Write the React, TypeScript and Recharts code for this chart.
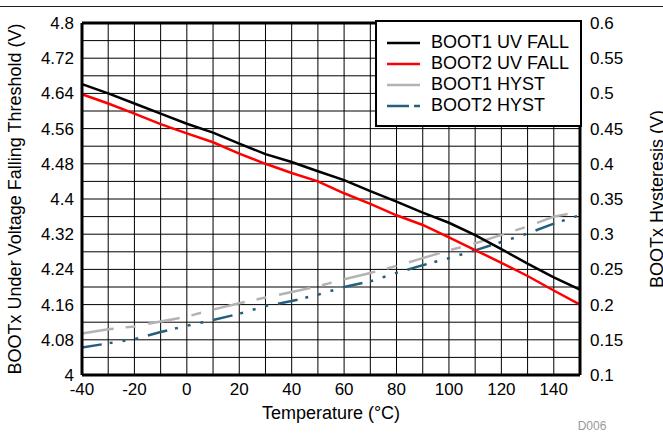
import React from 'react';
import { LineChart, Line, XAxis, YAxis, CartesianGrid, Legend, ReferenceLine } from 'recharts';

const temperatures = [-40, -30, -20, -10, 0, 10, 20, 30, 40, 50, 60, 70, 80, 90, 100, 110, 120, 130, 140, 150];
const boot1UvFall = [4.661, 4.640, 4.617, 4.594, 4.571, 4.551, 4.526, 4.502, 4.484, 4.463, 4.443, 4.418, 4.394, 4.369, 4.346, 4.318, 4.286, 4.253, 4.222, 4.194];
const boot2UvFall = [4.638, 4.617, 4.594, 4.570, 4.549, 4.529, 4.503, 4.480, 4.459, 4.440, 4.413, 4.389, 4.363, 4.341, 4.313, 4.284, 4.255, 4.225, 4.192, 4.160];
const boot1Hyst = [0.159, 0.165, 0.169, 0.176, 0.183, 0.193, 0.202, 0.210, 0.218, 0.226, 0.236, 0.245, 0.255, 0.266, 0.277, 0.287, 0.299, 0.311, 0.325, 0.332];
const boot2Hyst = [0.139, 0.145, 0.151, 0.161, 0.170, 0.178, 0.187, 0.198, 0.205, 0.214, 0.225, 0.233, 0.245, 0.256, 0.266, 0.277, 0.289, 0.301, 0.315, 0.327];

const seriesNames = ['BOOT1 UV FALL', 'BOOT2 UV FALL', 'BOOT1 HYST', 'BOOT2 HYST'];

const xTicks = [-40, -30, -20, -10, 0, 10, 20, 30, 40, 50, 60, 70, 80, 90, 100, 110, 120, 130, 140, 150];
const xTickLabels = ['-40', '-20', '0', '20', '40', '60', '80', '100', '120', '140'];
const leftTicks = [4, 4.04, 4.08, 4.12, 4.16, 4.2, 4.24, 4.28, 4.32, 4.36, 4.4, 4.44, 4.48, 4.52, 4.56, 4.6, 4.64, 4.68, 4.72, 4.76, 4.8];
const leftTickLabels = ['4', '4.08', '4.16', '4.24', '4.32', '4.4', '4.48', '4.56', '4.64', '4.72', '4.8'];
const rightTicks = [0.1, 0.15, 0.2, 0.25, 0.3, 0.35, 0.4, 0.45, 0.5, 0.55, 0.6];
const rightTickLabels = ['0.1', '0.15', '0.2', '0.25', '0.3', '0.35', '0.4', '0.45', '0.5', '0.55', '0.6'];

const FONT = '"Liberation Sans", Arial, Helvetica, sans-serif';
const COLORS = ['#000000', '#ff0000', '#b3b3b3', '#255f7e'];
const DASHES = [undefined, undefined, '32 12 10 13', '20 8 3 10 3 10 3 10'];
const LEGEND_DASHES = [undefined, undefined, undefined, '22 5 7 100'];

const chartData = temperatures.map((t, i) => ({
  t,
  b1: boot1UvFall[i],
  b2: boot2UvFall[i],
  h1: boot1Hyst[i],
  h2: boot2Hyst[i],
}));

const pick = (labels: string[], v: number) => {
  const found = labels.find((l) => Math.abs(Number(l) - v) < 1e-6);
  return found === undefined ? '' : found;
};

const renderLegend = () => (
  <div
    style={{
      boxSizing: 'border-box',
      width: 207,
      height: 107,
      border: '2.5px solid #000',
      background: '#fff',
      paddingTop: 10,
      fontFamily: FONT,
      fontSize: 18,
      color: '#000',
    }}
  >
    {seriesNames.map((name, i) => (
      <div key={name} style={{ display: 'flex', alignItems: 'center', height: 21 }}>
        <svg width={33} height={6} style={{ marginLeft: 9.5, marginRight: 11.5, display: 'block' }}>
          <line x1={0} y1={3} x2={33} y2={3} stroke={COLORS[i]} strokeWidth={2.5} strokeDasharray={LEGEND_DASHES[i]} />
        </svg>
        <span style={{ whiteSpace: 'nowrap', lineHeight: '21px' }}>{name}</span>
      </div>
    ))}
  </div>
);

const renderLeftTitle = (props: any) => {
  const vb = props.viewBox;
  const cx = vb.x + 21;
  const cy = vb.y + vb.height / 2;
  return (
    <text x={cx} y={cy} transform={`rotate(-90 ${cx} ${cy})`} textAnchor="middle" fontFamily={FONT} fontSize={18} fill="#000">
      BOOTx Under Voltage Falling Threshold (V)
    </text>
  );
};

const renderRightTitle = (props: any) => {
  const vb = props.viewBox;
  const cx = vb.x + 83;
  const cy = vb.y + vb.height / 2;
  return (
    <text x={cx} y={cy} transform={`rotate(-90 ${cx} ${cy})`} textAnchor="middle" fontFamily={FONT} fontSize={18} fill="#000">
      BOOTx Hysteresis (V)
    </text>
  );
};

const renderXTitle = (props: any) => {
  const vb = props.viewBox;
  return (
    <g>
      <text x={vb.x + vb.width / 2} y={vb.y + 44} textAnchor="middle" fontFamily={FONT} fontSize={18} fill="#000">
        Temperature (°C)
      </text>
      <text x={vb.x + vb.width + 12} y={vb.y + 55} textAnchor="middle" fontFamily={FONT} fontSize={12} fill="#999">
        D006
      </text>
    </g>
  );
};

export default function App() {
  return (
    <div style={{ position: 'absolute', left: 0, top: 0, width: 663, height: 435, background: '#fff' }}>
      <div style={{ position: 'absolute', left: 0, top: 6, width: 663, height: 1, background: '#222' }} />
      <LineChart width={663} height={435} data={chartData} margin={{ top: 23, right: 0, bottom: 0, left: 0 }}>
        <CartesianGrid yAxisId="left" stroke="#000" strokeWidth={1} />
        <XAxis
          dataKey="t"
          type="number"
          domain={[-40, 150]}
          ticks={xTicks}
          interval={0}
          height={60}
          tickLine={false}
          axisLine={{ stroke: '#000', strokeWidth: 3 }}
          tick={{ fill: '#000', fontSize: 17, fontFamily: FONT }}
          tickFormatter={(v: number) => pick(xTickLabels, v)}
          label={renderXTitle}
        />
        <YAxis
          yAxisId="left"
          orientation="left"
          type="number"
          domain={[4, 4.8]}
          ticks={leftTicks}
          interval={0}
          width={82}
          tickLine={false}
          axisLine={{ stroke: '#000', strokeWidth: 3 }}
          tick={{ fill: '#000', fontSize: 17, fontFamily: FONT }}
          tickFormatter={(v: number) => pick(leftTickLabels, v)}
          label={renderLeftTitle}
        />
        <YAxis
          yAxisId="right"
          orientation="right"
          type="number"
          domain={[0.1, 0.6]}
          ticks={rightTicks}
          interval={0}
          width={83}
          tickLine={false}
          tickMargin={4}
          axisLine={{ stroke: '#000', strokeWidth: 3 }}
          tick={{ fill: '#000', fontSize: 17, fontFamily: FONT }}
          tickFormatter={(v: number) => pick(rightTickLabels, v)}
          label={renderRightTitle}
        />
        <ReferenceLine yAxisId="left" y={4.8} stroke="#000" strokeWidth={3} />
        <Line yAxisId="right" dataKey="h1" name={seriesNames[2]} stroke={COLORS[2]} strokeWidth={2.5} strokeDasharray={DASHES[2]} dot={false} activeDot={false} isAnimationActive={false} />
        <Line yAxisId="right" dataKey="h2" name={seriesNames[3]} stroke={COLORS[3]} strokeWidth={2.5} strokeDasharray={DASHES[3]} dot={false} activeDot={false} isAnimationActive={false} />
        <Line yAxisId="left" dataKey="b1" name={seriesNames[0]} stroke={COLORS[0]} strokeWidth={2.5} dot={false} activeDot={false} isAnimationActive={false} />
        <Line yAxisId="left" dataKey="b2" name={seriesNames[1]} stroke={COLORS[1]} strokeWidth={2.5} dot={false} activeDot={false} isAnimationActive={false} />
        <Legend
          layout="vertical"
          align="center"
          verticalAlign="middle"
          content={renderLegend}
          wrapperStyle={{ left: 375, top: 20, width: 207, height: 107 }}
        />
      </LineChart>
    </div>
  );
}
